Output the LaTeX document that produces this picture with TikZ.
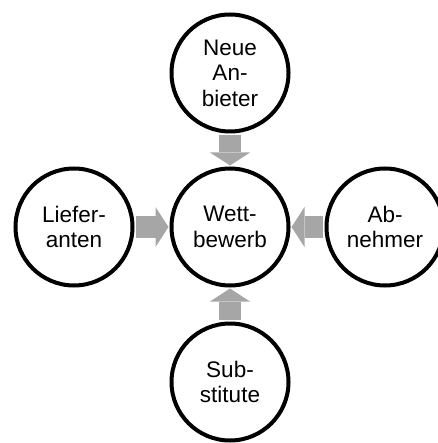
\documentclass[tikz,border=0pt]{standalone}
\usepackage{fontspec}
\setmainfont{Liberation Sans}
\usetikzlibrary{arrows.meta}

\begin{document}
\begin{tikzpicture}[x=1pt, y=-1pt,
force/.style={draw, circle, line width=4pt, minimum size=117pt, inner sep=0pt,
	align=center, font=\fontsize{22.5}{25.6}\selectfont},
push/.style={draw=black!35, line width=22pt, shorten <=1.5pt, shorten >=1pt,
	-{Triangle[length=13pt, width=40pt, line width=0pt]}}]
\useasboundingbox (0,0) rectangle (437,443);
\node[force] (wettbewerb) at (230,227) {Wett-\\bewerb};
\node[force] (anbieter) at (230,73) {Neue\\An-\\bieter};
\node[force] (lieferanten) at (74,227) {Liefer-\\anten};
\node[force] (abnehmer) at (385,227) {Ab-\\nehmer};
\node[force] (substitute) at (230,382) {Sub-\\stitute};
\draw[push] (anbieter) -- (wettbewerb);
\draw[push] (lieferanten) -- (wettbewerb);
\draw[push] (abnehmer) -- (wettbewerb);
\draw[push] (substitute) -- (wettbewerb);
\end{tikzpicture}
\end{document}
